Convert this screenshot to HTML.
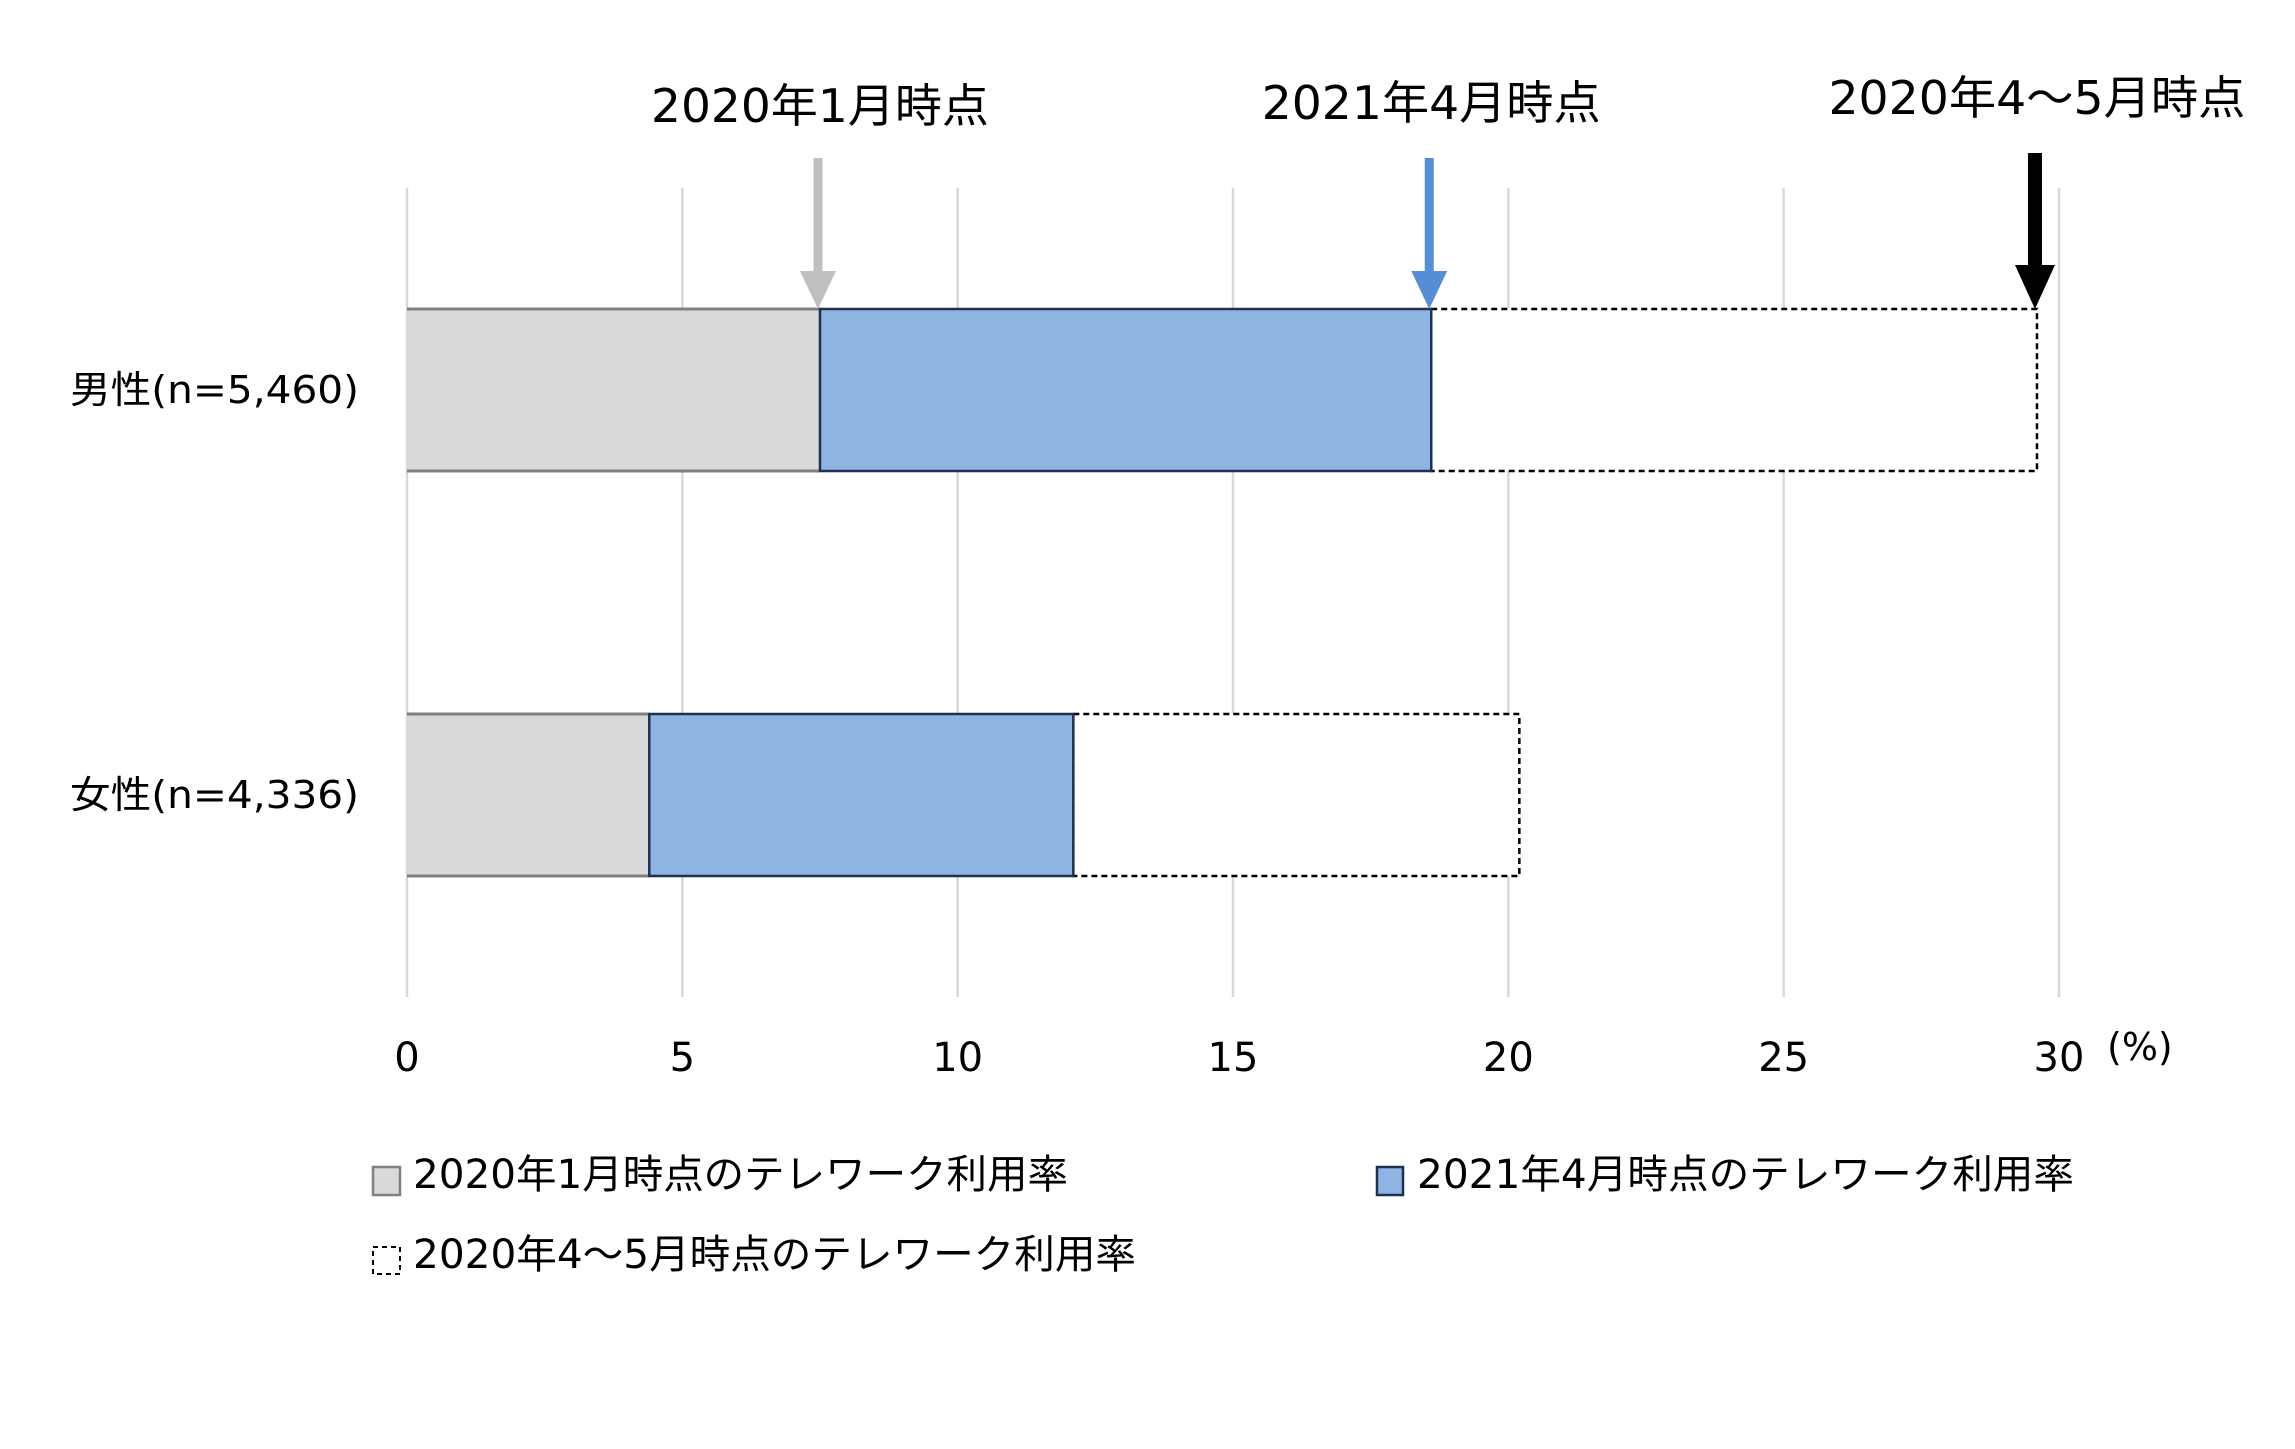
<!DOCTYPE html>
<html><head><meta charset="utf-8"><style>
html,body{margin:0;padding:0;background:#fff;}
svg text{font-family:"DejaVu Sans","Noto Sans CJK JP",sans-serif;fill:#000;}
</style></head><body>
<svg id="chart" width="2295" height="1444" viewBox="0 0 2295 1444" xmlns="http://www.w3.org/2000/svg">
<g id="grid"></g>
<g id="bars"></g>
<g id="arrows"></g>
<g id="ticks"></g>
<g id="cats"></g>
<text x="2107" y="1060" font-size="38">(%)</text>
<g>
 <g>
  <rect x="373" y="1167" width="27" height="28" fill="#d9d9d9" stroke="#808080" stroke-width="2.5"/>
  <text x="413" y="1188" font-size="40" textLength="655" lengthAdjust="spacingAndGlyphs">2020年1月時点のテレワーク利用率</text>
 </g>
 <g>
  <rect x="1377" y="1167" width="26" height="28" fill="#8eb4e3" stroke="#1f3050" stroke-width="2.5"/>
  <text x="1417" y="1188" font-size="40" textLength="657" lengthAdjust="spacingAndGlyphs">2021年4月時点のテレワーク利用率</text>
 </g>
 <g>
  <rect x="373" y="1247" width="27" height="27" fill="none" stroke="#000" stroke-width="2" stroke-dasharray="5,4"/>
  <text x="413" y="1268" font-size="40" textLength="723" lengthAdjust="spacingAndGlyphs">2020年4～5月時点のテレワーク利用率</text>
 </g>
</g>
</svg>
<script>
const categories = ["男性(n=5,460)", "女性(n=4,336)"];
const jan2020 = [7.5, 4.4];
const apr2021 = [18.6, 12.1];
const aprMay2020 = [29.6, 20.2];
const tickValues = [0, 5, 10, 15, 20, 25, 30];
const tickLabels = ["0", "5", "10", "15", "20", "25", "30"];
const markerLabels = ["2020年1月時点", "2021年4月時点", "2020年4～5月時点"];

const NS = "http://www.w3.org/2000/svg";
const x0 = 407, x1 = 2059, xMax = 30;
const xs = v => x0 + (x1 - x0) * v / xMax;
const bandTops = [309, 714], barH = 162;
const ys = i => bandTops[i];
function mk(tag, attrs, parent) {
  const e = document.createElementNS(NS, tag);
  for (const k in attrs) e.setAttribute(k, attrs[k]);
  parent.appendChild(e); return e;
}
const grid = document.getElementById('grid');
const ticks = document.getElementById('ticks');
tickValues.forEach((v, i) => {
  const l = mk('line', {x1: xs(v), x2: xs(v), y1: 188, y2: 997, stroke: '#d9d9d9', 'stroke-width': 2.5}, grid);
  
  
  const t = mk('text', {x: xs(v), y: 1071, 'font-size': 40, 'text-anchor': 'middle'}, ticks);
  
  
  t.textContent = tickLabels[i];
});
const bars = document.getElementById('bars');
const cats = document.getElementById('cats');
categories.forEach((c, i) => {
  const y = ys(i);
  const d = mk('rect', {x: xs(apr2021[i]), y: y, width: xs(aprMay2020[i]) - xs(apr2021[i]), height: barH, fill: '#fff', stroke: '#000', 'stroke-width': 2.5, 'stroke-dasharray': '6,4'}, bars);
  
  
  const g = mk('rect', {x: xs(0), y: y, width: xs(jan2020[i]) - xs(0), height: barH, fill: '#d9d9d9'}, bars);
  
  
  [y, y + barH].forEach(yy => {
    const ln = mk('line', {x1: xs(0), x2: xs(jan2020[i]), y1: yy, y2: yy, stroke: '#808080', 'stroke-width': 3}, bars);
    
    
  });
  const b = mk('rect', {x: xs(jan2020[i]), y: y, width: xs(apr2021[i]) - xs(jan2020[i]), height: barH, fill: '#8eb4e3', stroke: '#1f3050', 'stroke-width': 2.5}, bars);
  
  
  const t = mk('text', {x: 70, y: y + barH / 2 + 13, 'font-size': 38, textLength: 289, lengthAdjust: 'spacingAndGlyphs'}, cats);
  
  
  t.textContent = c;
});
// marker arrows point to male values
const arrows = document.getElementById('arrows');
const arrowVals = [jan2020[0], apr2021[0], aprMay2020[0]];
const arrowCols = ['#bfbfbf', '#558ed5', '#000'];
const arrowW = [9, 9, 14], headW = [36, 36, 40], headH = [38, 38, 44];
const shaftTop = [158, 158, 153];
const labelY = [122, 119, 114], labelW = [338, 339, 417];
arrowVals.forEach((v, i) => {
  const x = xs(v) - 2, tip = 309;
  const s = mk('rect', {x: x - arrowW[i] / 2, y: shaftTop[i], width: arrowW[i], height: tip - headH[i] - shaftTop[i] + 2, fill: arrowCols[i]}, arrows);
  
  
  const h = mk('polygon', {points: `${x - headW[i] / 2},${tip - headH[i]} ${x + headW[i] / 2},${tip - headH[i]} ${x},${tip}`, fill: arrowCols[i]}, arrows);
  
  
  const t = mk('text', {x: x + 2, y: labelY[i], 'font-size': 46, 'text-anchor': 'middle', textLength: labelW[i], lengthAdjust: 'spacingAndGlyphs'}, arrows);
  
  
  t.textContent = markerLabels[i];
});
</script>
</body></html>
